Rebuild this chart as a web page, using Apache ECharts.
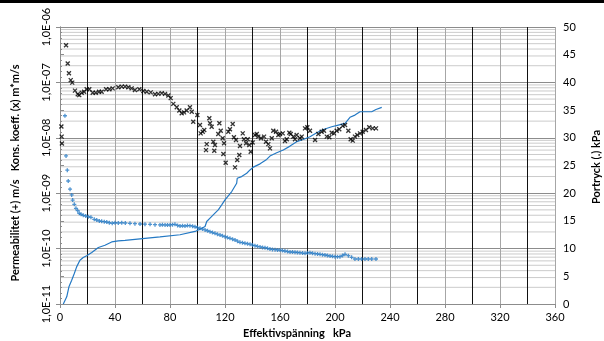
<!DOCTYPE html>
<html>
<head>
<meta charset="utf-8">
<script src="https://cdn.jsdelivr.net/npm/echarts@6/dist/echarts.min.js"></script>
<style>
  html, body { margin: 0; padding: 0; background: #fff; }
  #chart { width: 604px; height: 341px; }
</style>
</head>
<body>
<div id="chart"></div>
<script>
// Konsolideringskoefficient (x), m*m/s, against effective stress in kPa
const konsKPa = [1.0, 1.2, 1.4, 4.4, 5.6, 6.5, 7.8, 8.9, 10.9, 12.9, 14.0, 15.8, 17.5, 19.4, 21.3, 23.8, 26.0, 28.4, 30.3,
  33.5, 35.9, 38.3, 42.4, 44.9, 47.3, 49.7, 52.1, 54.5, 57.7, 60.6, 63.1, 66.0, 69.1, 71.5, 74.0, 76.4, 78.8, 80.5,
  82.4, 84.9, 86.8, 88.5, 90.2, 92.1, 94.5, 95.8, 96.9, 99.9, 101.8, 102.3, 103.8, 104.9, 106.7, 106.2, 108.6, 109.1,
  110.3, 111.5, 112.7, 112.2, 115.1, 115.9, 116.9, 118.3, 119.3, 118.8, 120.5, 122.4, 123.6, 125.6, 126.5, 128.0,
  128.9, 130.4, 127.3, 130.9, 132.9, 133.8, 135.3, 136.5, 137.7, 138.7, 140.1, 141.8, 143.1, 144.2, 146.2, 148.4,
  149.8, 151.5, 152.7, 154.0, 155.1, 157.1, 158.8, 160.0, 162.0, 163.6, 164.9, 166.8, 167.8, 169.7, 170.9, 172.1,
  174.5, 175.8, 178.2, 179.9, 181.8, 185.5, 187.9, 190.3, 192.0, 194.0, 195.9, 197.6, 199.3, 201.2, 203.1, 205.6,
  207.3, 209.7, 211.4, 212.9, 214.5, 216.2, 218.2, 220.1, 222.5, 224.9, 227.4, 229.8];
const konsValue = [1.6e-8, 1.05e-8, 7.9e-9, 4.7e-7, 2.2e-7, 1.46e-7, 1.1e-7, 9.9e-8, 7.1e-8, 6.1e-8, 5.9e-8, 6.5e-8, 6.8e-8, 7.5e-8, 7.5e-8, 6.5e-8, 6.5e-8, 6.8e-8, 6.8e-8,
  7.5e-8, 7.5e-8, 7.8e-8, 8.2e-8, 8.4e-8, 8.4e-8, 8.2e-8, 7.8e-8, 7.3e-8, 7.5e-8, 7.0e-8, 6.8e-8, 6.6e-8, 6.1e-8, 6.2e-8, 6.4e-8, 6.2e-8, 5.8e-8, 5.2e-8,
  4.1e-8, 3.55e-8, 3.1e-8, 2.77e-8, 2.88e-8, 3.1e-8, 3.55e-8, 2.96e-8, 1.95e-8, 2.58e-8, 1.7e-8, 1.2e-8, 1.29e-8, 1.38e-8, 7.7e-9, 6.0e-9, 2.25e-8, 1.83e-8,
  1.58e-8, 8.5e-9, 7.4e-9, 5.85e-9, 1.17e-8, 1.83e-8, 1.34e-8, 9.8e-9, 7.95e-9, 5.1e-9, 3.55e-9, 1.29e-8, 1.43e-8, 1.78e-8, 1.02e-8, 9.1e-9,
  3.97e-9, 4.9e-9, 2.93e-9, 7.1e-9, 1.2e-8, 9.4e-9, 7.95e-9, 9.4e-9, 7.4e-9, 5.6e-9, 8.2e-9, 1.12e-8, 1.17e-8, 1.05e-8, 9.8e-9, 1.05e-8,
  8.5e-9, 7.7e-9, 6.45e-9, 9.8e-9, 1.34e-8, 1.29e-8, 1.12e-8, 1.17e-8, 1.2e-8, 8.75e-9, 9.4e-9, 1.23e-8, 1.17e-8, 1.05e-8, 9.4e-9, 1.12e-8,
  9.8e-9, 1.05e-8, 1.48e-8, 1.55e-8, 1.34e-8, 9.1e-9, 1.17e-8, 1.29e-8, 1.34e-8, 1.05e-8, 1.02e-8, 1.23e-8, 1.2e-8, 1.34e-8, 1.43e-8, 1.64e-8,
  1.7e-8, 1.34e-8, 9.4e-9, 8.9e-9, 1.05e-8, 1.12e-8, 1.2e-8, 1.29e-8, 1.38e-8, 1.55e-8, 1.48e-8, 1.48e-8];

// Permeabilitet (+), m/s
const permKPa = [3.6, 4.4, 5.3, 6.0, 7.3, 8.5, 9.2, 10.4, 11.6, 12.9, 14.0, 15.3, 16.9, 18.7, 20.6, 22.5, 24.9, 26.7, 28.6,
  30.3, 32.2, 34.0, 35.9, 38.0, 40.0, 42.4, 44.9, 47.5, 50.9, 54.5, 58.2, 61.8, 65.5, 69.1, 72.7, 74.5, 76.4, 78.2, 80.0, 81.8, 83.6, 85.5, 87.3, 89.1, 90.9, 92.7, 94.5, 96.4, 98.2,
  100.0, 101.8, 103.6, 105.5, 107.3, 109.1, 110.9, 112.7, 114.5, 116.4, 118.2, 120.0, 121.8, 123.6, 125.5, 127.3, 129.1, 130.9, 132.7, 134.5, 136.4, 138.2, 140.0, 141.8, 143.6, 145.5, 147.3, 149.1, 150.9, 152.7, 154.5, 156.4,
  158.2, 160.0, 161.8, 163.6, 165.5, 167.3, 169.1, 170.9, 172.7, 174.5, 176.4, 178.2, 180.0, 181.8, 183.6, 185.5, 187.3, 189.1, 190.9, 192.7, 194.5, 196.4, 198.2, 200.0, 201.8, 203.6, 205.5, 207.3, 209.7, 212.1,
  214.5, 217.0, 219.4, 221.8, 224.2, 226.7, 229.8];
const permValue = [2.5e-8, 4.7e-9, 2.6e-9, 1.66e-9, 1.18e-9, 9.3e-10, 7.5e-10, 6.3e-10, 5.34e-10, 4.83e-10, 4.34e-10, 4.16e-10, 3.99e-10, 3.88e-10, 3.77e-10, 3.67e-10, 3.38e-10, 3.28e-10, 3.15e-10,
  3.11e-10, 3.06e-10, 3.02e-10, 2.93e-10, 2.86e-10, 2.93e-10, 2.9e-10, 2.93e-10, 2.9e-10, 2.86e-10, 2.82e-10, 2.78e-10, 2.76e-10, 2.74e-10, 2.7e-10, 2.67e-10, 2.69e-10, 2.67e-10, 2.66e-10, 2.67e-10, 2.7e-10, 2.74e-10, 2.62e-10, 2.56e-10, 2.58e-10, 2.56e-10, 2.6e-10, 2.59e-10, 2.54e-10, 2.48e-10,
  2.4e-10, 2.32e-10, 2.25e-10, 2.17e-10, 2.1e-10, 2.02e-10, 1.95e-10, 1.89e-10, 1.82e-10, 1.76e-10, 1.7e-10, 1.64e-10, 1.58e-10, 1.53e-10, 1.48e-10, 1.43e-10, 1.36e-10, 1.3e-10, 1.28e-10, 1.25e-10, 1.22e-10, 1.2e-10, 1.16e-10, 1.13e-10, 1.1e-10, 1.07e-10, 1.05e-10, 1.04e-10, 1.01e-10, 9.8e-11, 9.65e-11, 9.55e-11,
  9.45e-11, 9.4e-11, 9.2e-11, 9.05e-11, 8.85e-11, 8.68e-11, 8.65e-11, 8.6e-11, 8.5e-11, 8.44e-11, 8.3e-11, 8.22e-11, 8.35e-11, 8.44e-11, 8.25e-11, 8.09e-11, 8.0e-11, 7.89e-11, 7.78e-11, 7.66e-11, 7.5e-11, 7.35e-11, 7.25e-11, 7.14e-11, 7.14e-11, 7.14e-11, 7.5e-11, 7.89e-11, 7.44e-11, 6.96e-11,
  6.49e-11, 6.49e-11, 6.49e-11, 6.49e-11, 6.49e-11, 6.49e-11, 6.49e-11];

// Portryck (.), kPa
const poreKPa = [2.4, 4.9, 6.5, 8.5, 10.4, 12.1, 14.5, 16.9, 19.4, 23.1, 27.9, 32.7, 37.6, 42.4, 47.3, 72.7, 87.3, 98.2,
  101.8, 105.5, 106.7, 109.1, 112.7, 115.1, 117.6, 120.0, 121.2, 124.9, 128.5, 128.9, 132.1, 135.8, 138.2, 140.6,
  145.5, 150.3, 152.7, 157.6, 162.4, 167.3, 172.1, 176.9, 181.8, 186.7, 191.5, 197.6, 202.4, 207.3, 210.9, 214.5,
  218.2, 226.7, 229.8, 234.0];
const porePressure = [0, 1.3, 3.1, 4.3, 5.5, 6.7, 7.9, 8.4, 8.7, 9.3, 10.2, 10.6, 11.2, 11.4, 11.5, 12.1, 12.5, 13.1,
  13.5, 14.0, 14.9, 15.5, 16.4, 17.0, 17.9, 18.8, 19.1, 20.3, 21.8, 22.7, 23.0, 23.6, 24.2, 24.7,
  25.3, 26.1, 26.7, 27.3, 27.8, 28.5, 29.3, 29.7, 30.2, 30.9, 31.5, 32.0, 32.3, 32.6, 33.7, 34.1,
  34.7, 34.7, 35.1, 35.5];

// Axis tick labels
const logTickLabels = ['1,0E-11', '1,0E-10', '1,0E-09', '1,0E-08', '1,0E-07', '1,0E-06'];

const zip = (a, b) => a.map((v, i) => [v, b[i]]);

// Excel-style minor log gridlines (2..9 within each decade), drawn as one broken line
const minorGrid = [];
for (let e = -11; e <= -7; e++) {
  for (let k = 2; k <= 9; k++) {
    const v = k * Math.pow(10, e);
    minorGrid.push([0, v], [360, v], [360, '-']);
  }
}

const FONT = 'Lato';
const BLUE = '#2479c4';

const chart = echarts.init(document.getElementById('chart'), null, { renderer: 'canvas' });
chart.setOption({
  animation: false,
  backgroundColor: '#fff',
  grid: { left: 60, right: 49, top: 27, bottom: 37, containLabel: false },
  xAxis: [
    {
      type: 'value', min: 0, max: 360, interval: 40, z: 1,
      axisLine: { show: true, lineStyle: { color: '#8c8c8c', width: 1 } },
      axisTick: { show: true, length: 4, lineStyle: { color: '#8c8c8c' } },
      axisLabel: { color: '#000', fontFamily: FONT, fontSize: 11, margin: 8 },
      splitLine: { show: true, lineStyle: { color: '#a6a6a6', width: 1 } }
    },
    {
      // the darker lines half-way between the labelled ticks
      type: 'value', min: 0, max: 360, interval: 20, position: 'bottom', z: 2,
      axisLine: { show: false }, axisTick: { show: false }, axisLabel: { show: false },
      splitLine: { show: true, lineStyle: { color: ['rgba(0,0,0,0)', '#111'], width: 1 } }
    }
  ],
  yAxis: [
    {
      type: 'log', logBase: 10, min: 1e-11, max: 1e-6, position: 'left', z: 1,
      axisLine: { show: true, lineStyle: { color: '#8c8c8c' } },
      axisTick: { show: true, length: 4, lineStyle: { color: '#8c8c8c' } },
      axisLabel: {
        color: '#000', fontFamily: FONT, fontSize: 11, rotate: 90, margin: 8,
        formatter: v => logTickLabels[Math.round(Math.log10(v)) + 11]
      },
      splitLine: { show: true, lineStyle: { color: '#8c8c8c', width: 1 } }
    },
    {
      type: 'value', min: 0, max: 50, interval: 5, position: 'right', z: 1,
      axisLine: { show: true, lineStyle: { color: '#8c8c8c' } },
      axisTick: { show: true, inside: false, length: 4, lineStyle: { color: '#8c8c8c' } },
      minorTick: { show: true, splitNumber: 5, length: 2, lineStyle: { color: '#8c8c8c' } },
      axisLabel: { color: '#000', fontFamily: FONT, fontSize: 11, margin: 8 },
      splitLine: { show: false }
    }
  ],
  series: [
    {
      name: 'minor grid', type: 'line', xAxisIndex: 0, yAxisIndex: 0,
      data: minorGrid, showSymbol: false, silent: true, z: 0, connectNulls: false,
      lineStyle: { color: '#cbcbcb', width: 1 }, emphasis: { disabled: true }
    },
    {
      name: 'Portryck', type: 'line', xAxisIndex: 0, yAxisIndex: 1,
      data: zip(poreKPa, porePressure), showSymbol: false, z: 3,
      lineStyle: { color: BLUE, width: 1.2 }
    },
    {
      name: 'Permeabilitet', type: 'scatter', xAxisIndex: 0, yAxisIndex: 0,
      data: zip(permKPa, permValue), z: 4,
      symbol: 'path://M5,0L5,10M0,5L10,5', symbolSize: 4,
      itemStyle: { color: 'rgba(0,0,0,0)', borderColor: BLUE, borderWidth: 1.3 }
    },
    {
      name: 'Kons. koeff.', type: 'scatter', xAxisIndex: 0, yAxisIndex: 0,
      data: zip(konsKPa, konsValue), z: 5,
      symbol: 'path://M0,0L10,10M10,0L0,10', symbolSize: 4,
      itemStyle: { color: 'rgba(0,0,0,0)', borderColor: '#000', borderWidth: 1.3 }
    }
  ],
  graphic: [
    { type: 'rect', left: 0, top: 0, shape: { width: 604, height: 3 }, style: { fill: '#000' }, silent: true },
    {
      type: 'text', x: 15, y: 173, rotation: Math.PI / 2,
      style: { text: 'Permeabilitet (+) m/s   Kons. koeff. (x) m*m/s', fontFamily: FONT, fontSize: 11, fontWeight: 'bold',
        fill: '#000', align: 'center', verticalAlign: 'middle' }
    },
    {
      type: 'text', x: 596, y: 167, rotation: Math.PI / 2,
      style: { text: 'Portryck (.) kPa', fontFamily: FONT, fontSize: 11, fontWeight: 'bold',
        fill: '#000', align: 'center', verticalAlign: 'middle' }
    },
    {
      type: 'text', x: 297, y: 333,
      style: { text: 'Effektivspänning   kPa', fontFamily: FONT, fontSize: 11, fontWeight: 'bold',
        fill: '#000', align: 'center', verticalAlign: 'middle' }
    }
  ]
});
</script>
</body>
</html>
